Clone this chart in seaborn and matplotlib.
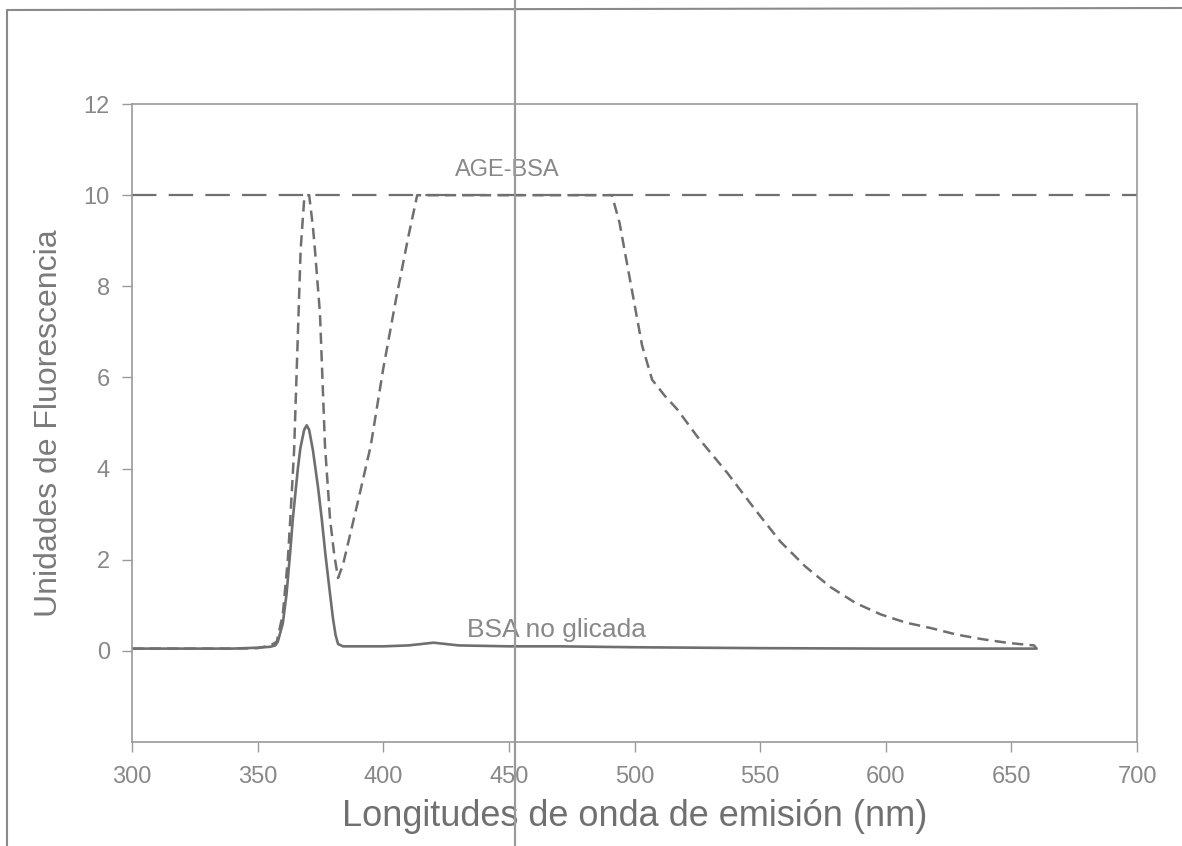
import matplotlib
matplotlib.use('Agg')
import matplotlib.pyplot as plt
from matplotlib.lines import Line2D
import numpy as np
import pandas as pd
import seaborn as sns

# emission wavelengths (nm) and fluorescence
wl_age = [300, 320, 340, 350, 355, 357.6, 360, 362, 363, 364.5, 365.8, 367.1, 368.5, 369.5,
          370.5, 372, 372.8, 374.8, 376.8, 378.8, 380.5, 382, 384, 387, 390, 395, 400, 405,
          410, 413.5, 430, 450, 470, 491, 494, 498, 503, 507, 512, 517, 525, 537, 548, 558,
          568, 578, 588, 598, 608, 618, 628, 638, 648, 655, 659, 660]
fl_age = [0.05, 0.05, 0.05, 0.06, 0.12, 0.2, 0.8, 2.0, 2.9, 4.4, 6.6, 8.8, 9.9, 10.0,
          10.0, 9.3, 8.8, 7.4, 4.5, 2.9, 2.1, 1.6, 1.9, 2.6, 3.3, 4.5, 6.2, 7.7,
          9.1, 10.0, 10.0, 10.0, 10.0, 10.0, 9.4, 8.2, 6.7, 5.95, 5.6, 5.3, 4.7, 3.9, 3.1, 2.4,
          1.85, 1.4, 1.05, 0.8, 0.62, 0.5, 0.36, 0.26, 0.18, 0.14, 0.12, 0.05]

wl_bsa = [300, 320, 340, 350, 355, 357, 358, 360, 361.5, 363, 364, 366, 367, 368.5, 369.5,
          370.5, 372, 374, 375.5, 377, 378.8, 380, 381, 382, 384, 390, 400, 410, 415, 420,
          425, 430, 450, 470, 500, 550, 600, 660]
fl_bsa = [0.05, 0.05, 0.05, 0.07, 0.09, 0.12, 0.2, 0.6, 1.25, 2.2, 2.9, 4.0, 4.45, 4.85, 4.95,
          4.85, 4.4, 3.6, 2.9, 2.1, 1.25, 0.7, 0.35, 0.15, 0.1, 0.1, 0.1, 0.12, 0.15, 0.18,
          0.15, 0.12, 0.1, 0.1, 0.08, 0.06, 0.05, 0.05]

# instrument ceiling line
sat_x = [300, 700]
sat_y = [10, 10]

x_ticks = [300, 350, 400, 450, 500, 550, 600, 650, 700]
y_ticks = [0, 2, 4, 6, 8, 10, 12]

age = pd.DataFrame({'wl': wl_age, 'fl': fl_age})
bsa = pd.DataFrame({'wl': wl_bsa, 'fl': fl_bsa})
sat = pd.DataFrame({'wl': sat_x, 'fl': sat_y})

sns.set_theme(style='white')
plt.rcParams['font.family'] = ['Liberation Sans', 'DejaVu Sans']

grey = '#6f6f6f'
txt = '#888888'

fig = plt.figure(figsize=(11.82, 8.46), dpi=100)
ax = fig.add_axes([0.1117, 0.1229, 0.8503, 0.7541])

sns.lineplot(data=sat, x='wl', y='fl', ax=ax, color=grey, lw=1.6, linestyle=(0, (11, 5.5)))
sns.lineplot(data=bsa, x='wl', y='fl', ax=ax, color=grey, lw=1.9)
sns.lineplot(data=age, x='wl', y='fl', ax=ax, color=grey, lw=1.8, linestyle=(0, (4.5, 2.5)))

ax.set_xlim(300, 700)
ax.set_ylim(-2, 12)
ax.set_xticks(x_ticks)
ax.set_yticks(y_ticks)
ax.tick_params(axis='both', direction='out', length=7, width=1, color='#9a9a9a',
               labelsize=17, labelcolor=txt, pad=9)
ax.tick_params(axis='x', pad=10)
ax.tick_params(left=True, bottom=True)
for sp in ax.spines.values():
    sp.set_color('#9a9a9a')
    sp.set_linewidth(1.2)

ax.set_xlabel('Longitudes de onda de emisión (nm)', fontsize=26, color='#707070', labelpad=8)
ax.set_ylabel('Unidades de Fluorescencia', fontsize=23, color='#7a7a7a', labelpad=14)

ax.text(428.6, 10.55, 'AGE-BSA', fontsize=17, color=txt, va='center', ha='left')
ax.text(433.3, 0.45, 'BSA no glicada', fontsize=19, color=txt, va='center', ha='left')

# scan artefacts: page border and fold line
fig.add_artist(Line2D([7 / 1182, 7 / 1182], [0, 1 - 10 / 846], transform=fig.transFigure,
                      color='#8a8a8a', lw=1.5))
fig.add_artist(Line2D([7 / 1182, 1], [1 - 10 / 846, 1 - 8 / 846], transform=fig.transFigure,
                      color='#8a8a8a', lw=1.5))
fig.add_artist(Line2D([515 / 1182, 515 / 1182], [0, 1], transform=fig.transFigure,
                      color='#9a9a9a', lw=1.6))

fig.savefig('out.png', dpi=100)
